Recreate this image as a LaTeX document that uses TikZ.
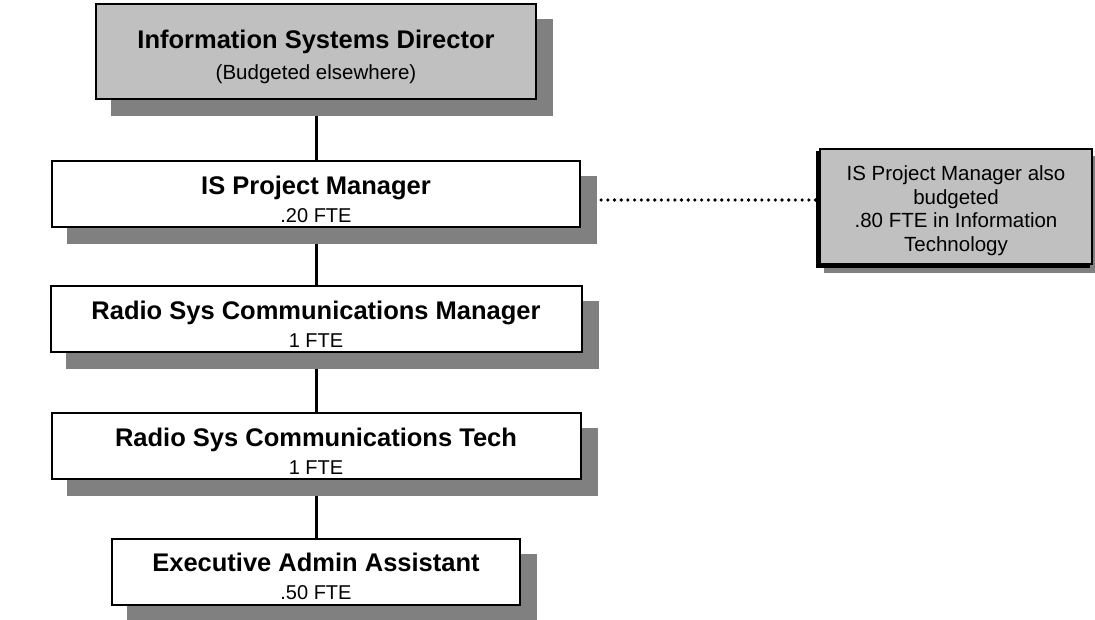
\documentclass[tikz,border=0pt]{standalone}
\usepackage{fontspec}
\setmainfont{Liberation Sans}
\definecolor{boxgrey}{HTML}{C0C0C0}
\definecolor{shadowgrey}{HTML}{808080}
\pgfdeclarelayer{connlayer}
\pgfdeclarelayer{shadelayer}
\pgfsetlayers{connlayer,shadelayer,main}
\newcommand\boldline[1]{{\bfseries\fontsize{25.5}{28}\selectfont\rule{0pt}{28.6pt}#1}}
\tikzset{
  orgbox/.style={draw=black, line width=2pt, fill=white, minimum height=66pt,
    inner sep=0pt, align=center, font=\fontsize{20}{28}\selectfont},
  topbox/.style={orgbox, fill=boxgrey, minimum height=95pt, minimum width=440pt,
    font=\fontsize{20.5}{31}\selectfont},
  notebox/.style={draw=black, line width=1.5pt, fill=boxgrey, minimum width=272pt,
    minimum height=115pt, inner sep=0pt, align=center,
    font=\fontsize{20.5}{23.5}\selectfont},
  shadowfill/.style={fill=shadowgrey},
  conn/.style={line width=3pt, draw=black},
  dotline/.style={line width=3.6pt, draw=black, line cap=round, dash pattern=on 0pt off 6.7pt},
}
\newcommand\mkorgbox[5]{%
  \node[orgbox, minimum width=#3] (#1) at #2 {\boldline{#4}\\#5};
  \begin{pgfonlayer}{shadelayer}
    \fill[shadowfill] ([shift={(16pt,-16pt)}]#1.north west) rectangle ([shift={(16pt,-16pt)}]#1.south east);
  \end{pgfonlayer}
}
\begin{document}
\begin{tikzpicture}[x=1pt, y=-1pt]
\useasboundingbox (0,0) rectangle (1095,619);

% top box
\node[topbox] (top) at (316,51.5) {\boldline{Information Systems Director}\\(Budgeted elsewhere)};
\begin{pgfonlayer}{shadelayer}
  \fill[shadowfill] ([shift={(16pt,-16pt)}]top.north west) rectangle ([shift={(16pt,-16pt)}]top.south east);
\end{pgfonlayer}

\mkorgbox{pm}{(316,194)}{528pt}{IS Project Manager}{.20 FTE}
\mkorgbox{mgr}{(316,319)}{531pt}{Radio Sys Communications Manager}{1 FTE}
\mkorgbox{tech}{(316,446)}{529pt}{Radio Sys Communications Tech}{1 FTE}
\mkorgbox{exec}{(316,571.5)}{408pt}{Executive Admin Assistant}{.50 FTE}

% note box
\node[notebox] (note) at (956,206.5) {\rule{0pt}{23pt}IS Project Manager also\\budgeted\\.80 FTE in Information\\Technology};
\begin{pgfonlayer}{shadelayer}
  \fill[shadowfill] ([shift={(5pt,-8pt)}]note.north west) rectangle ([shift={(5pt,-8pt)}]note.south east);
  \fill[black] ([shift={(-3pt,-3pt)}]note.north west) rectangle ([shift={(-3pt,-3pt)}]note.south east);
\end{pgfonlayer}

% connectors
\begin{pgfonlayer}{connlayer}
  \draw[conn] (top.south) -- (pm.north);
  \draw[conn] (pm.south) -- (mgr.north);
  \draw[conn] (mgr.south) -- (tech.north);
  \draw[conn] (tech.south) -- (exec.north);
  \draw[dotline] ([yshift=-6pt]pm.east) -- ([yshift=-6pt]pm.east -| note.west);
\end{pgfonlayer}
\end{tikzpicture}
\end{document}
